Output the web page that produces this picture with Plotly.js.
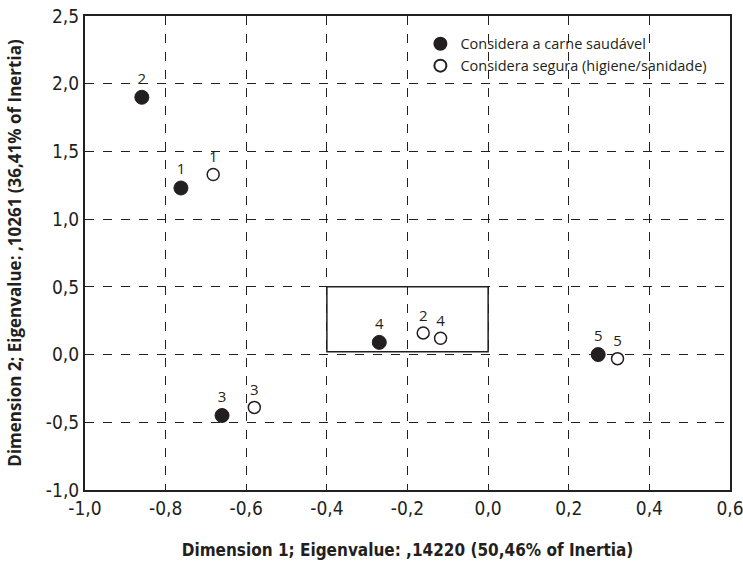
<!DOCTYPE html>
<html>
<head>
<meta charset="utf-8">
<script src="https://cdn.plot.ly/plotly-3.0.1.min.js"></script>
<style>html,body{margin:0;padding:0;background:#fff;}#chart{width:743px;height:565px;}</style>
</head>
<body>
<div id="chart"></div>
<script>
const labels = ['1','2','3','4','5'];
const saudavelX = [-0.762, -0.859, -0.66, -0.27, 0.273];
const saudavelY = [1.23, 1.90, -0.45, 0.09, 0.0];
const seguraX = [-0.682, -0.161, -0.58, -0.118, 0.321];
const seguraY = [1.33, 0.16, -0.39, 0.12, -0.03];
const boxX = [-0.4, 0.0];
const boxY = [0.02, 0.5];
const xTicks = [-1.0, -0.8, -0.6, -0.4, -0.2, 0.0, 0.2, 0.4, 0.6];
const xTickText = ['-1,0','-0,8','-0,6','-0,4','-0,2','0,0','0,2','0,4','0,6'];
const yTicks = [-1.0, -0.5, 0.0, 0.5, 1.0, 1.5, 2.0, 2.5];
const yTickText = ['-1,0','-0,5','0,0','0,5','1,0','1,5','2,0','2,5'];

const narrow = '"DejaVu Sans Condensed", "Liberation Sans Narrow", sans-serif';
const ink = '#231f20';

const traces = [
  {
    x: saudavelX, y: saudavelY, text: labels,
    mode: 'markers+text', type: 'scatter',
    name: 'Considera a carne saudável',
    textposition: 'top center',
    textfont: {family: 'Open Sans, sans-serif', size: 15, color: ink},
    marker: {symbol: 'circle', size: 14, color: ink, line: {color: ink, width: 1}},
    cliponaxis: false
  },
  {
    x: seguraX, y: seguraY, text: labels,
    mode: 'markers+text', type: 'scatter',
    name: 'Considera segura (higiene/sanidade)',
    textposition: 'top center',
    textfont: {family: 'Open Sans, sans-serif', size: 15, color: ink},
    marker: {symbol: 'circle', size: 12, color: '#ffffff', line: {color: ink, width: 1.5}},
    cliponaxis: false
  }
];

const layout = {
  width: 743, height: 565,
  margin: {l: 85, r: 13, t: 16, b: 75},
  paper_bgcolor: '#ffffff', plot_bgcolor: '#ffffff',
  showlegend: true,
  legend: {
    x: 0.52, y: 0.975, xanchor: 'left', yanchor: 'top',
    bgcolor: 'rgba(0,0,0,0)', borderwidth: 0,
    font: {family: 'Open Sans, sans-serif', size: 14.5, color: ink},
    itemsizing: 'constant', itemwidth: 30, tracegroupgap: 0
  },
  xaxis: {
    range: [-1.0, 0.6], tickvals: xTicks, ticktext: xTickText,
    showgrid: true, gridcolor: ink, griddash: 'dash', gridwidth: 1,
    zeroline: false, showline: true, linecolor: ink, linewidth: 2, mirror: true,
    ticks: '', ticklabeloverflow: 'allow',
    tickfont: {family: narrow, size: 19, color: ink},
    title: {text: 'Dimension 1; Eigenvalue: ,14220 (50,46% of Inertia)',
            font: {family: narrow, size: 17, color: ink, weight: 'bold'}, standoff: 26}
  },
  yaxis: {
    range: [-1.0, 2.5], tickvals: yTicks, ticktext: yTickText,
    showgrid: true, gridcolor: ink, griddash: 'dash', gridwidth: 1,
    zeroline: false, showline: true, linecolor: ink, linewidth: 2, mirror: true,
    ticks: '', ticklabeloverflow: 'allow',
    tickfont: {family: narrow, size: 19, color: ink},
    title: {text: 'Dimension 2; Eigenvalue: ,10261 (36,41% of Inertia)',
            font: {family: 'Open Sans, sans-serif', size: 17, color: ink, weight: 'bold'}, standoff: 20}
  },
  shapes: [{
    type: 'rect', xref: 'x', yref: 'y',
    x0: boxX[0], x1: boxX[1], y0: boxY[0], y1: boxY[1],
    line: {color: ink, width: 1.5}, fillcolor: 'rgba(0,0,0,0)'
  }]
};

Plotly.newPlot('chart', traces, layout, {displayModeBar: false, staticPlot: true});
</script>
</body>
</html>
